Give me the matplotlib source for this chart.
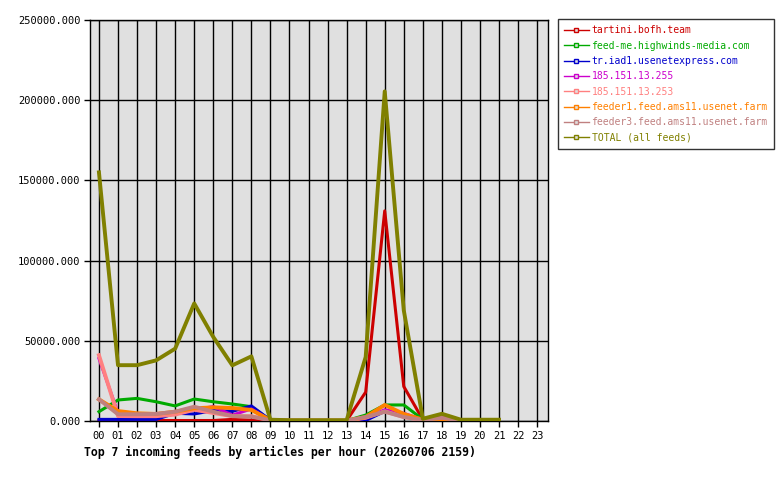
import numpy as np
import matplotlib
matplotlib.use("Agg")
import matplotlib.pyplot as plt
from matplotlib.ticker import FuncFormatter

plt.rcParams['font.family'] = ['DejaVu Sans Mono']

hours = [f"{h:02d}" for h in range(24)]

# articles per hour, hours 00..21 (nothing after 21)
tartini = [300, 300, 300, 300, 300, 300, 300, 1000, 500, 200, 200, 200, 200, 200,
           18000, 131000, 21500, 800, 500, 200, 200, 200]
feedme = [5800, 13100, 14100, 12000, 9400, 13700, 12000, 10600, 8900, 500, 200, 200, 200, 200,
          3700, 10000, 10000, 1000, 800, 200, 200, 200]
iad1 = [1000, 1000, 1000, 1000, 4800, 4400, 6500, 6000, 9400, 500, 200, 200, 200, 200,
        300, 6000, 3000, 500, 500, 200, 200, 200]
ip255 = [39000, 5000, 4000, 4000, 5000, 7000, 9000, 3700, 7500, 500, 200, 200, 200, 200,
         2000, 7000, 4800, 800, 2500, 200, 200, 200]
ip253 = [41000, 3100, 3000, 3000, 4000, 7000, 5000, 3000, 3000, 500, 200, 200, 200, 200,
         2000, 6000, 2500, 600, 1500, 200, 200, 200]
feeder1 = [13500, 6200, 4800, 4400, 5800, 7900, 8500, 8100, 6900, 500, 200, 200, 200, 200,
           2500, 10000, 4400, 800, 1000, 200, 200, 200]
feeder3 = [13500, 4200, 4200, 4400, 5800, 8900, 5800, 3100, 2700, 500, 200, 200, 200, 200,
           2500, 5800, 2500, 600, 2000, 200, 200, 200]
total = [155000, 34800, 34800, 37800, 45100, 73300, 52400, 34700, 40300, 800, 500, 500, 500, 500,
         39900, 205500, 69000, 1400, 4500, 800, 800, 800]

names = ["tartini.bofh.team", "feed-me.highwinds-media.com", "tr.iad1.usenetexpress.com",
         "185.151.13.255", "185.151.13.253", "feeder1.feed.ams11.usenet.farm",
         "feeder3.feed.ams11.usenet.farm", "TOTAL (all feeds)"]
series = [tartini, feedme, iad1, ip255, ip253, feeder1, feeder3, total]
colors = ["#cc0000", "#00aa00", "#0000cc", "#cc00cc", "#ff8080", "#ff8000", "#c08080", "#808000"]
widths = [2.2, 2.2, 2.2, 2.2, 2.8, 2.8, 2.8, 2.8]

fig = plt.figure(figsize=(7.8, 4.8), dpi=100)
ax = fig.add_axes([90 / 780, 1 - 421 / 480, 458 / 780, 401 / 480])
ax.set_facecolor("#e0e0e0")

x = np.arange(len(total))
for name, vals, c, lw in zip(names, series, colors, widths):
    ax.plot(x, vals, color=c, lw=lw, label=name, zorder=3)

ax.set_xlim(-0.47, 23.57)
ax.set_ylim(0, 250000)
ax.set_xticks(range(24))
ax.set_xticklabels(hours)
ax.set_yticks(np.arange(0, 250001, 50000))
ax.yaxis.set_major_formatter(FuncFormatter(lambda v, p: f"{v:.3f}"))
ax.grid(True, color="black", lw=1, zorder=1)
ax.set_axisbelow(True)
ax.tick_params(axis="both", labelsize=7.5, colors="black", length=4, width=1, direction="out", pad=3)
for s in ax.spines.values():
    s.set_color("black")
    s.set_linewidth(1)

leg_handles = [plt.Line2D([0], [0], color=c, lw=1, marker="s", markersize=3,
                          markerfacecolor="#e0e0e0", markeredgecolor=c) for c in colors]
leg = fig.legend(leg_handles, names, loc="upper left", bbox_to_anchor=(558 / 780, 1 - 19 / 480),
                 fontsize=7, frameon=True, fancybox=False, edgecolor="black",
                 handlelength=2.5, handletextpad=0.3, labelspacing=0.55, borderpad=0.65,
                 borderaxespad=0)
leg.get_frame().set_linewidth(1)
for t, c in zip(leg.get_texts(), colors):
    t.set_color(c)

fig.text(84 / 780, 1 - 452 / 480, "Top 7 incoming feeds by articles per hour (20260706 2159)",
         fontsize=8.3, fontweight="bold", va="center", ha="left")

fig.savefig("out.png", dpi=100)
